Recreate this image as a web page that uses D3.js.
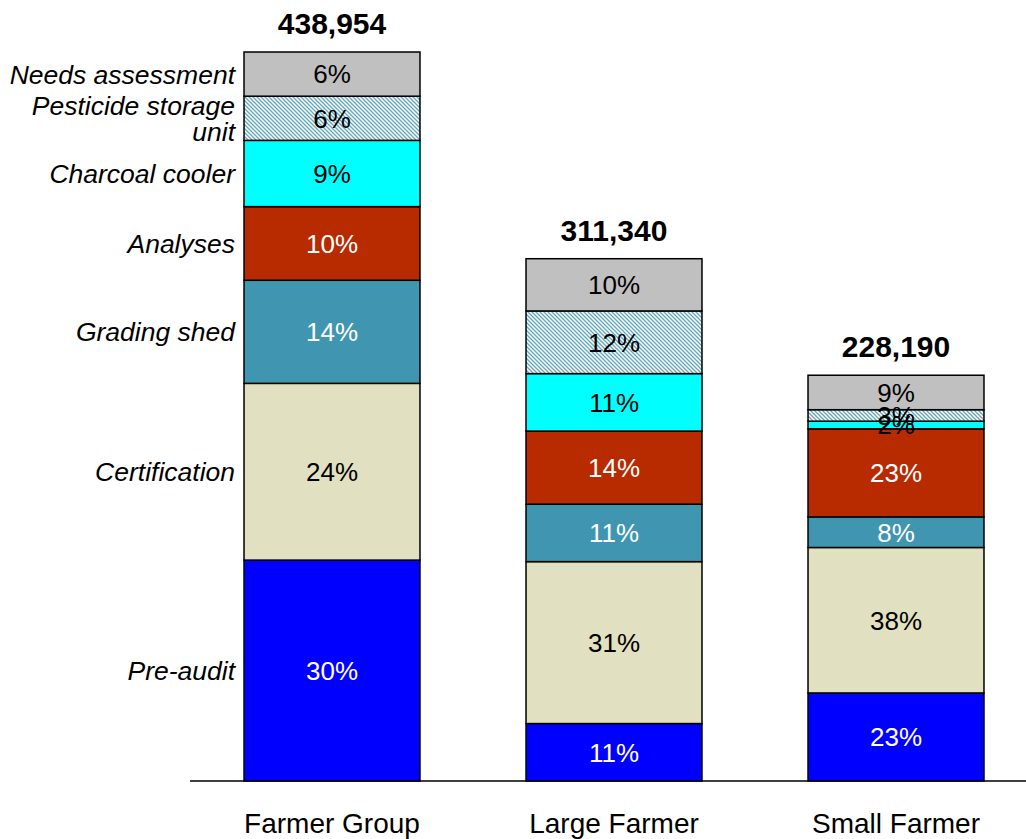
<!DOCTYPE html>
<html>
<head>
<meta charset="utf-8">
<script src="https://cdn.jsdelivr.net/npm/d3@7"></script>
<style>
  html, body { margin: 0; padding: 0; background: #fff; }
  svg { display: block; font-family: "Liberation Sans", Arial, sans-serif; }
</style>
</head>
<body>
<svg id="chart" width="1026" height="839"></svg>
<script>
// Cost components, bottom to top of each stack
const components = ["Pre-audit", "Certification", "Grading shed", "Analyses", "Charcoal cooler", "Pesticide storage unit", "Needs assessment"];
const componentLines = [["Pre-audit"], ["Certification"], ["Grading shed"], ["Analyses"], ["Charcoal cooler"], ["Pesticide storage", "unit"], ["Needs assessment"]];

const categories = ["Farmer Group", "Large Farmer", "Small Farmer"];
const totals = [438954, 311340, 228190];

// Share (%) of each component per category
const farmerGroupShares = [30, 24, 14, 10, 9, 6, 6];
const largeFarmerShares = [11, 31, 11, 14, 11, 12, 10];
const smallFarmerShares = [23, 38, 8, 23, 2, 3, 9];

const fills = ["#0000FF", "#E1E1C1", "#4096B0", "#B82A00", "#00FFFF", "url(#hatch)", "#C0C0C0"];
const labelColors = ["#fff", "#000", "#fff", "#fff", "#000", "#000", "#000"];

const shares = [farmerGroupShares, largeFarmerShares, smallFarmerShares];

const svg = d3.select("#chart");
const defs = svg.append("defs");
const pat = defs.append("pattern")
  .attr("id", "hatch")
  .attr("patternUnits", "userSpaceOnUse")
  .attr("width", 4).attr("height", 4);
pat.append("rect").attr("width", 4).attr("height", 4).attr("fill", "#fff");
pat.append("path")
  .attr("d", "M-1,-1 L5,5 M-1,3 L1,5 M3,-1 L5,1")
  .attr("stroke", "#5FA8C4")
  .attr("stroke-width", 1.3);

const baseY = 781;

// Build stacked segments in currency units
const stacks = categories.map((c, i) => {
  let acc = 0;
  const segs = shares[i].map((p, j) => {
    const v = totals[i] * p / 100;
    const s = { cat: c, comp: j, pct: p, y0: acc, y1: acc + v };
    acc += v;
    return s;
  });
  return { cat: c, total: totals[i], top: acc, segs };
});

const yMax = d3.max(stacks, d => d.top);
const y = d3.scaleLinear().domain([0, yMax]).range([baseY, 52]);

const x = d3.scaleBand()
  .domain(categories)
  .range([191, 1037])
  .paddingInner(0.376)
  .paddingOuter(0.188);

// baseline
svg.append("line")
  .attr("x1", 190).attr("x2", 1026)
  .attr("y1", baseY).attr("y2", baseY)
  .attr("stroke", "#000").attr("stroke-width", 1.5);

const bars = svg.selectAll("g.bar")
  .data(stacks)
  .join("g")
  .attr("class", "bar");

bars.selectAll("rect")
  .data(d => d.segs)
  .join("rect")
  .attr("x", d => x(d.cat))
  .attr("width", x.bandwidth())
  .attr("y", d => y(d.y1))
  .attr("height", d => y(d.y0) - y(d.y1))
  .attr("fill", d => fills[d.comp])
  .attr("stroke", "#000")
  .attr("stroke-width", 1.5);

bars.selectAll("text.seg")
  .data(d => d.segs)
  .join("text")
  .attr("class", "seg")
  .attr("x", d => x(d.cat) + x.bandwidth() / 2)
  .attr("y", d => (y(d.y0) + y(d.y1)) / 2)
  .attr("dy", "0.36em")
  .attr("text-anchor", "middle")
  .attr("font-size", 26)
  .attr("fill", d => labelColors[d.comp])
  .text(d => d.pct + "%");

// totals above bars
svg.selectAll("text.total")
  .data(stacks)
  .join("text")
  .attr("class", "total")
  .attr("x", d => x(d.cat) + x.bandwidth() / 2)
  .attr("y", d => y(d.top) - 18)
  .attr("text-anchor", "middle")
  .attr("font-size", 30)
  .attr("font-weight", "bold")
  .text(d => d3.format(",")(d.total));

// category labels
svg.selectAll("text.cat")
  .data(categories)
  .join("text")
  .attr("class", "cat")
  .attr("x", d => x(d) + x.bandwidth() / 2)
  .attr("y", 833)
  .attr("text-anchor", "middle")
  .attr("font-size", 28)
  .text(d => d);

// component names beside the first stack
const first = stacks[0];
const legend = svg.selectAll("text.comp")
  .data(first.segs)
  .join("text")
  .attr("class", "comp")
  .attr("text-anchor", "end")
  .attr("font-size", 26.5)
  .attr("font-style", "italic")
  .attr("transform", d => {
    const lines = componentLines[d.comp].length;
    const cy = (y(d.y0) + y(d.y1)) / 2 - (lines - 1) * 13;
    return `translate(235,${cy})`;
  });

legend.selectAll("tspan")
  .data(d => componentLines[d.comp])
  .join("tspan")
  .attr("x", 0)
  .attr("y", (d, i) => i * 26)
  .attr("dy", "0.36em")
  .text(d => d);
</script>
</body>
</html>
